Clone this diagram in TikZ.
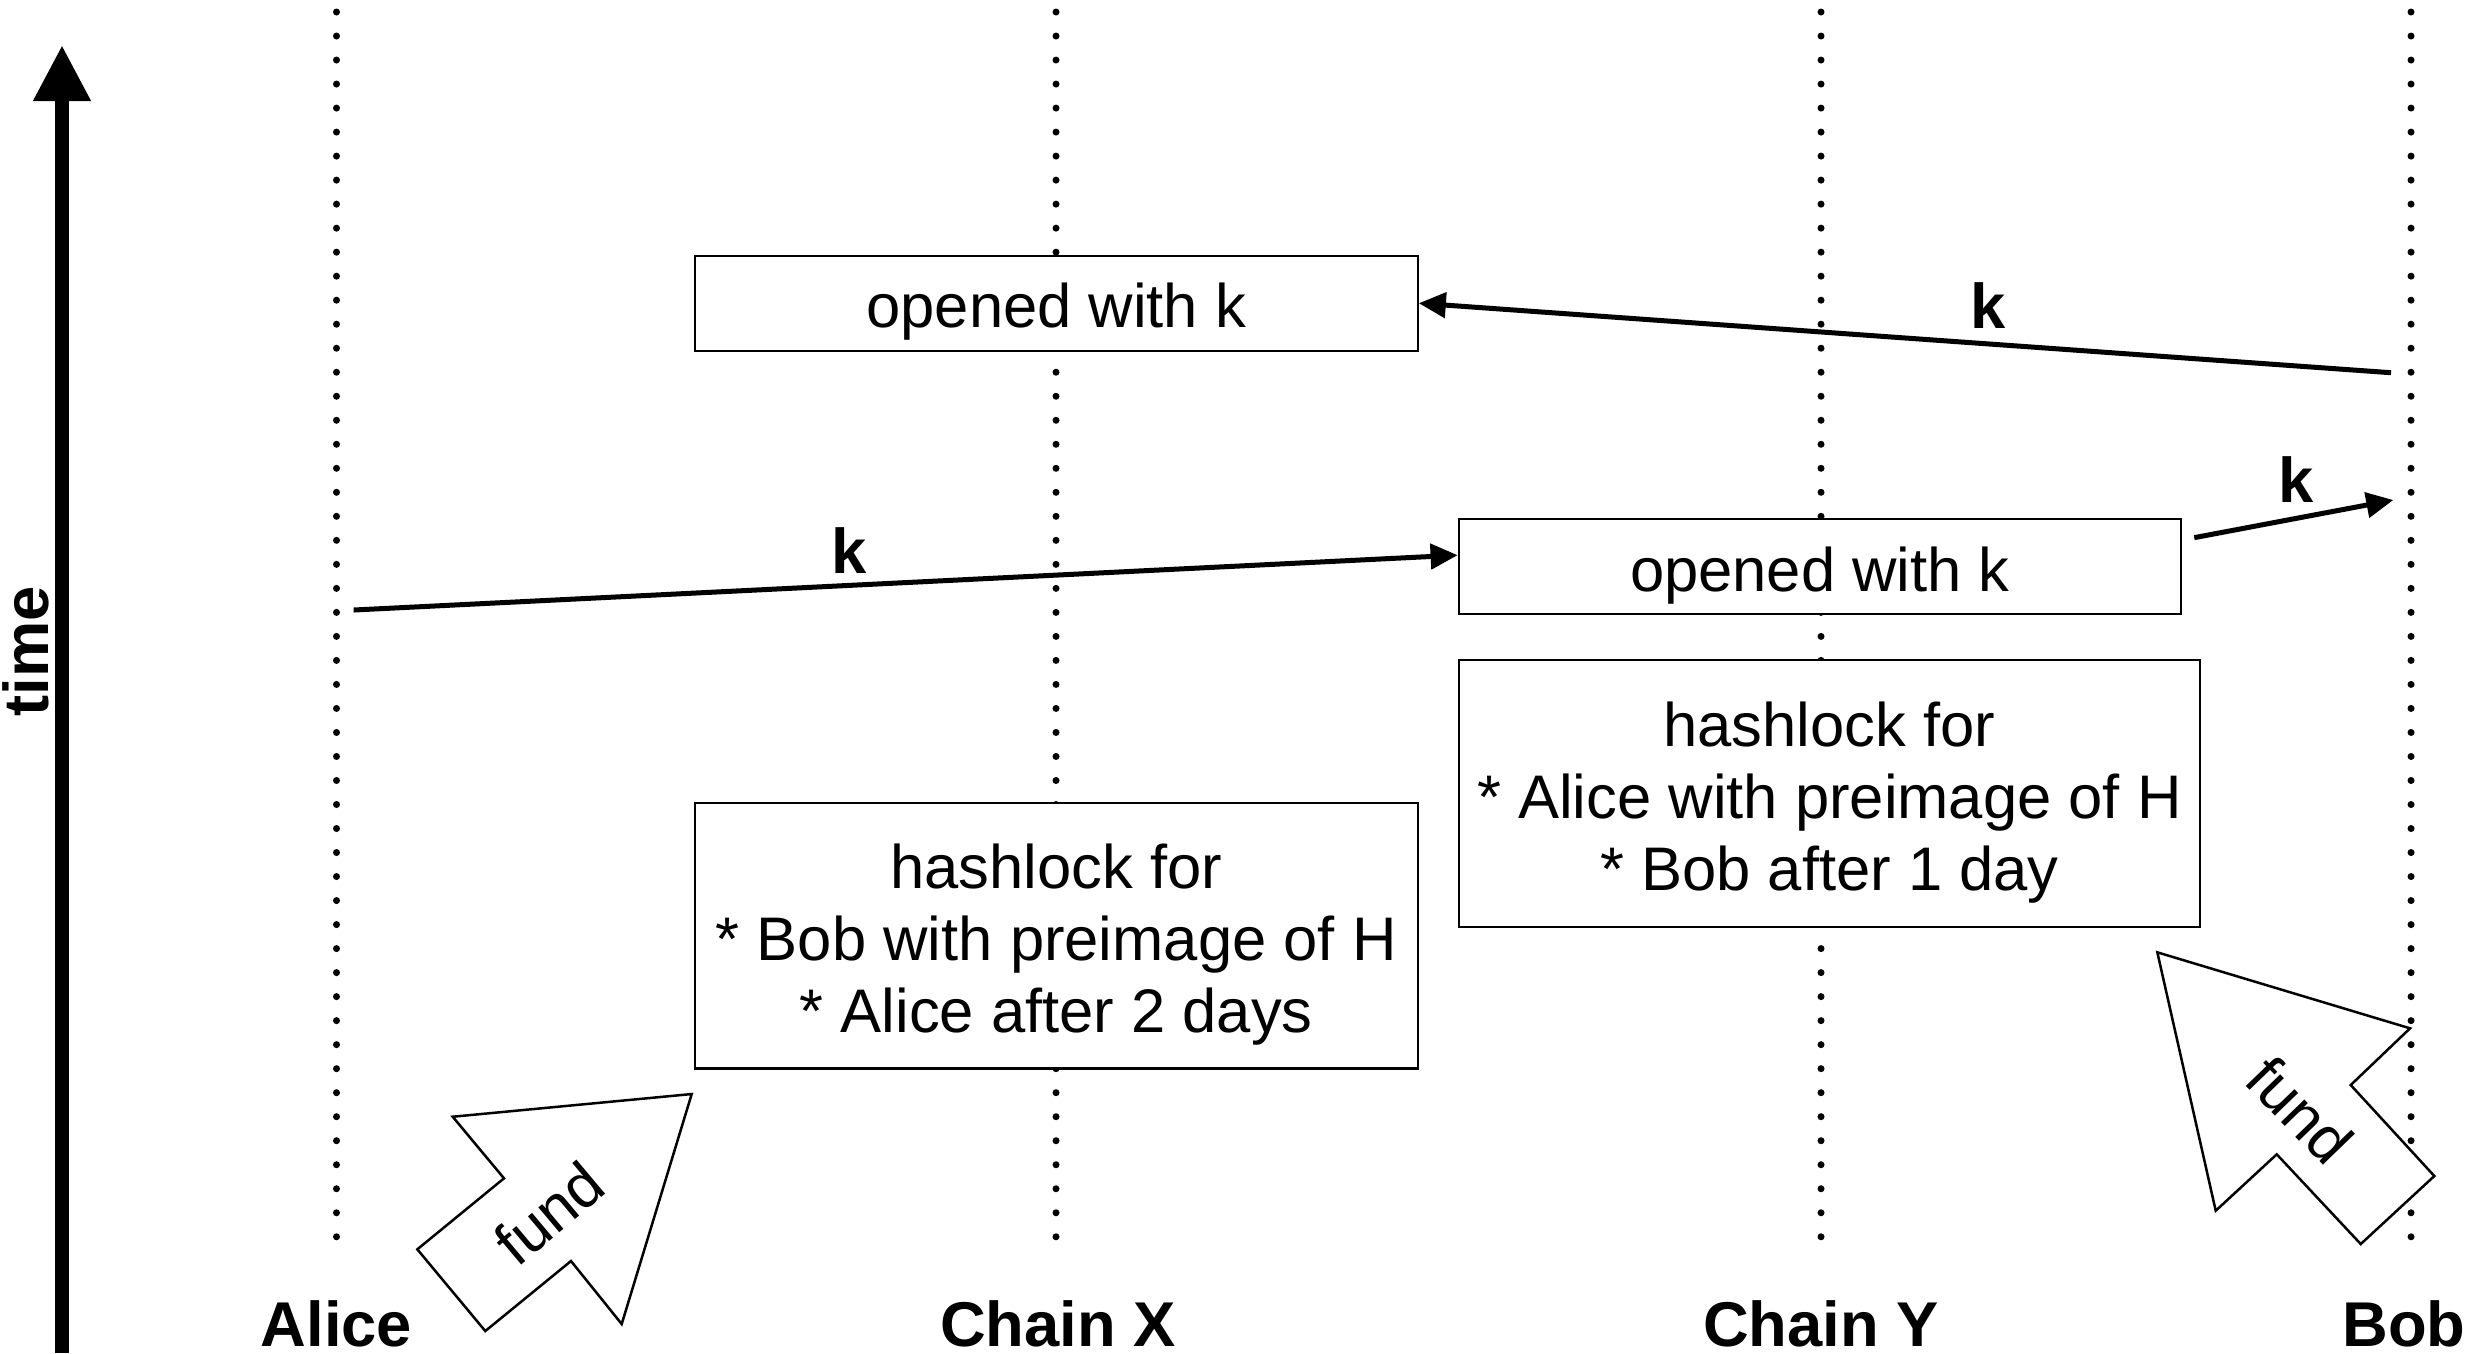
\documentclass[tikz,border=0pt]{standalone}
\usepackage{fontspec}
\setmainfont{Liberation Sans}
\usetikzlibrary{arrows.meta}
\begin{document}
\begin{tikzpicture}[x=0.01cm,y=-0.01cm,
  lifeline/.style={line width=0.07cm, dash pattern=on 0pt off 0.24cm, line cap=round},
  box/.style={draw, line width=0.022cm, fill=white, inner sep=0pt, align=center, font=\fontsize{17.5pt}{20.5pt}\selectfont},
  onebox/.style={box, text height=0.62cm},
  threebox/.style={box, text height=2.06cm},
  msg/.style={line width=0.05cm, -{Triangle[length=0.27cm,width=0.25cm]}},
  klabel/.style={font=\fontsize{18pt}{21pt}\selectfont\bfseries, anchor=base, inner sep=0pt},
  actor/.style={font=\fontsize{18pt}{21pt}\selectfont\bfseries, anchor=base, inner sep=0pt},
  fundarrow/.style={draw, line width=0.025cm, fill=white, line join=miter},
  fundtext/.style={font=\fontsize{17.5pt}{21pt}\selectfont, inner sep=0pt},
  timearrow/.style={line width=0.135cm, -{Triangle[length=0.56cm,width=0.54cm]}}
]
\useasboundingbox (0,0) rectangle (2489,1353);

% lifelines
\coordinate (aT) at (336.5,12);   \coordinate (aB) at (336.5,1241);
\coordinate (xT) at (1056,12);    \coordinate (xB) at (1056,1241);
\coordinate (yT) at (1821,12);    \coordinate (yB) at (1821,1241);
\coordinate (bT) at (2411,12);    \coordinate (bB) at (2411,1241);
\draw[lifeline] (aT) -- (aB);
\draw[lifeline] (xT) -- (xB);
\draw[lifeline] (yT) -- (yB);
\draw[lifeline] (bT) -- (bB);

% time axis
\coordinate (tBot) at (62,1353);
\coordinate (tTop) at (62,45);
\draw[timearrow] (tBot) -- (tTop);
\node[font=\fontsize{18pt}{21pt}\selectfont\bfseries, rotate=90, anchor=base, inner sep=0pt] (time) at (48,651) {time};

% actors
\node[actor] (alice) at (336.5,1346) {Alice};
\node[actor] (chainx) at (1058,1346) {Chain X};
\node[actor] (chainy) at (1821,1346) {Chain Y};
\node[actor] (bob) at (2404,1346) {Bob};

% boxes
\node[onebox, minimum width=7.225cm, minimum height=0.95cm] (open1) at (1056.25,303.2) {opened with k};
\node[onebox, minimum width=7.22cm, minimum height=0.953cm] (open2) at (1819.9,566.65) {opened with k};
\node[threebox, minimum width=7.225cm, minimum height=2.653cm] (hashX) at (1056.25,935.65) {hashlock for\\* Bob with preimage of H\\* Alice after 2 days};
\node[threebox, minimum width=7.412cm, minimum height=2.667cm] (hashY) at (1829.4,793.5) {hashlock for\\* Alice with preimage of H\\* Bob after 1 day};

% fund arrows
\draw[fundarrow] (691.7,1094) -- (452.7,1116.7) -- (504,1178.3) -- (417.3,1249.3) -- (485.3,1331) -- (571,1261) -- (621.7,1324) -- cycle;
\node[fundtext, rotate=40] (fundA) at (549,1213) {fund};
\draw[fundarrow] (2157.3,952.3) -- (2410,1028.3) -- (2350.7,1085) -- (2434.3,1176) -- (2360.7,1244) -- (2276.7,1154.3) -- (2215.7,1210.7) -- cycle;
\node[fundtext, rotate=-46] (fundB) at (2300,1110) {fund};

% k messages
\coordinate (bobK1) at (2391,372.7);
\coordinate (aliceK) at (353.6,610);
\coordinate (bobK2) at (2393.3,500);
\draw[msg] (bobK1) -- (open1.east);
\draw[msg] (aliceK) -- ([yshift=0.115cm]open2.west);
\draw[msg] ([xshift=0.12cm,yshift=0.29cm]open2.east) -- (bobK2);
\node[klabel] (k1) at (1988,328) {k};
\node[klabel] (k2) at (849,573) {k};
\node[klabel] (k3) at (2296,502) {k};
\end{tikzpicture}
\end{document}
